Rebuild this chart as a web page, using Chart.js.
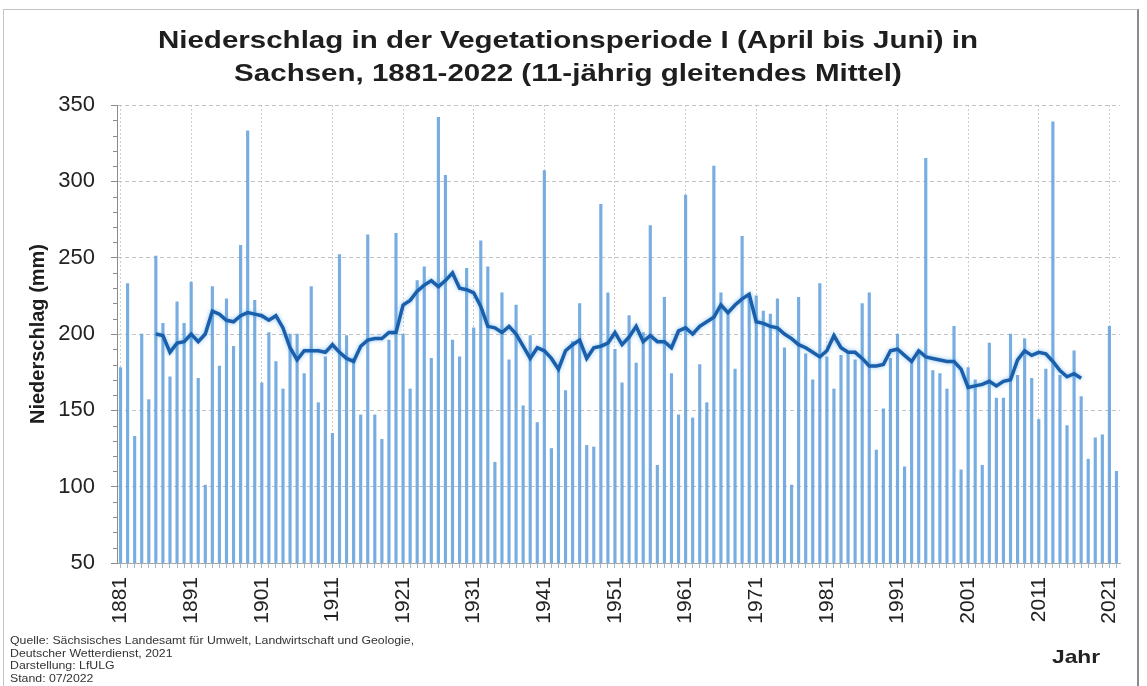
<!DOCTYPE html>
<html><head><meta charset="utf-8">
<script src="https://cdn.jsdelivr.net/npm/chart.js@4/dist/chart.umd.min.js"></script>
<style>
html,body{margin:0;padding:0;background:#fff;}
#wrap{position:relative;width:1147px;height:686px;overflow:hidden;font-family:"Liberation Sans",Arial,sans-serif;color:#222;}
#frame{position:absolute;left:3px;top:9px;width:1136px;height:700px;border:1px solid #c4c4c4;border-right:2px solid #8a8a8a;box-sizing:border-box;}
#c{position:absolute;left:0;top:0;}
#title{position:absolute;left:0;width:1136px;top:23px;text-align:center;font-weight:bold;font-size:24px;line-height:33px;color:#1e1e1e;transform:scaleX(1.23);transform-origin:568px 0;}
#src{position:absolute;left:10px;top:635px;font-size:10px;line-height:12.6px;color:#333;white-space:nowrap;transform:scaleX(1.23);transform-origin:0 0;}
#jahr{position:absolute;left:1052px;top:646px;font-weight:bold;font-size:19px;color:#222;transform:scaleX(1.2);transform-origin:0 0;}
</style></head>
<body><div id="wrap">
<div id="frame"></div>
<canvas id="c" width="1147" height="686"></canvas>
<div id="title">Niederschlag in der Vegetationsperiode I (April bis Juni) in<br>Sachsen, 1881-2022 (11-jährig gleitendes Mittel)</div>
<div id="src">Quelle: Sächsisches Landesamt für Umwelt, Landwirtschaft und Geologie,<br>Deutscher Wetterdienst, 2021<br>Darstellung: LfULG<br>Stand: 07/2022</div>
<div id="jahr">Jahr</div>
</div>
<script>
const FIRST_YEAR = 1881;
const LAST_YEAR = 2022;
const years = Array.from({length: LAST_YEAR - FIRST_YEAR + 1}, (_, i) => String(FIRST_YEAR + i));

// Niederschlag April-Juni (mm), 1881-2022
const precipitation = [
  178,233,133,200,157,251,207,172,221,207,
  234,171,101,231,179,223,192,258,333,222,
  168,201,182,164,200,200,174,231,155,185,
  135,252,199,184,147,265,147,131,196,266,
  200,164,235,244,184,342,304,196,185,243,
  204,261,244,116,227,183,219,153,199,142,
  307,125,177,163,195,220,127,126,285,227,
  190,168,212,181,201,271,114,224,174,147,
  291,145,180,155,310,227,215,177,264,225,
  225,215,213,223,191,101,224,187,170,233,
  185,164,186,188,183,220,227,124,151,184,
  200,113,182,188,315,176,174,164,205,111,
  178,170,114,194,158,158,200,173,197,171,
  144,177,339,173,140,189,159,118,132,134,
  205,110
];

// 11-jährig gleitendes Mittel (1886-2017)
const movingAvg = [
  null,null,null,null,null,
  200,199,188,194,195,
  200,195,200,215,213,209,208,212,214,213,
  212,209,212,204,191,183,189,189,189,188,
  193,188,184,182,192,196,197,197,201,201,
  219,222,228,232,235,231,235,240,230,229,
  227,218,205,204,201,205,200,192,184,191,
  189,184,177,189,193,196,184,191,192,194,
  201,193,198,205,195,199,195,195,191,202,
  204,200,205,208,211,219,214,219,223,226,
  208,207,205,204,200,197,193,191,188,185,
  189,199,191,188,188,184,179,179,180,189,
  190,186,182,189,185,184,183,182,182,177,
  165,166,167,169,166,169,170,183,189,186,
  188,187,182,176,172,174,171,
  null,null,null,null,null
];

const yTicks = [50, 100, 150, 200, 250, 300, 350];
const FONT = '"Liberation Sans", Arial, sans-serif';

const minorTicks = {
  id: 'minorTicks',
  afterDraw(chart) {
    const ctx = chart.ctx, y = chart.scales.y, x = chart.scales.x;
    ctx.save();
    ctx.strokeStyle = '#8c8c8c';
    ctx.lineWidth = 1;
    for (let v = 60; v < 350; v += 10) {
      if (v % 50 === 0) continue;
      const py = Math.round(y.getPixelForValue(v)) + 0.5;
      ctx.beginPath(); ctx.moveTo(x.left - 4, py); ctx.lineTo(x.left, py); ctx.stroke();
    }
    ctx.restore();
  }
};

const lineGlow = {
  id: 'lineGlow',
  beforeDatasetDraw(chart, args) {
    if (args.index === 0) {
      chart.ctx.save();
      chart.ctx.shadowColor = 'rgba(90,170,235,0.7)';
      chart.ctx.shadowBlur = 4;
    }
  },
  afterDatasetDraw(chart, args) {
    if (args.index === 0) chart.ctx.restore();
  }
};

const chart = new Chart(document.getElementById('c'), {
  type: 'bar',
  data: {
    labels: years,
    datasets: [
      {
        type: 'line',
        label: '11-jährig gleitendes Mittel',
        data: movingAvg,
        borderColor: '#1b5fab',
        borderWidth: 3.5,
        pointRadius: 0,
        tension: 0,
        spanGaps: false,
        order: 0
      },
      {
        type: 'bar',
        label: 'Niederschlag',
        data: precipitation,
        backgroundColor: 'rgba(104,164,222,0.9)',
        barThickness: 2.5,
        order: 1
      }
    ]
  },
  options: {
    responsive: false,
    animation: false,
    layout: {padding: {left: 0, right: 27, top: 105, bottom: 0}},
    plugins: {legend: {display: false}, tooltip: {enabled: false}, title: {display: false}},
    scales: {
      x: {
        offset: true,
        grid: {
          offset: false,
          color: ctx => ((ctx.index % 10) === 0 ? '#cfcfcf' : 'rgba(0,0,0,0)'),
          tickColor: '#9fb8d0',
          tickLength: 5,
          lineWidth: 1
        },
        border: {display: true, color: '#a9a9a9', dash: [2, 2]},
        ticks: {
          autoSkip: false,
          maxRotation: 90,
          minRotation: 90,
          padding: 9,
          color: '#222',
          font: {family: FONT, size: 21},
          callback: function(val, idx) { return (idx % 10 === 0) ? years[idx] : ''; }
        },
        afterFit: s => { s.height = 123; s.paddingRight = 0; s.paddingLeft = 0; }
      },
      y: {
        min: 50,
        max: 350,
        afterBuildTicks: s => { s.ticks = yTicks.map(v => ({value: v})); },
        grid: {color: '#c2c2c2', tickColor: '#8c8c8c', tickLength: 6},
        border: {display: true, color: '#8c8c8c', dash: [4, 3]},
        ticks: {padding: 16, color: '#222', font: {family: FONT, size: 22}},
        title: {
          display: true,
          text: 'Niederschlag (mm)',
          color: '#1e1e1e',
          font: {family: FONT, size: 20, weight: 'bold'},
          padding: {top: 26, bottom: 0}
        },
        afterFit: s => { s.width = 117; }
      }
    }
  },
  plugins: [minorTicks, lineGlow]
});
</script>
</body></html>
